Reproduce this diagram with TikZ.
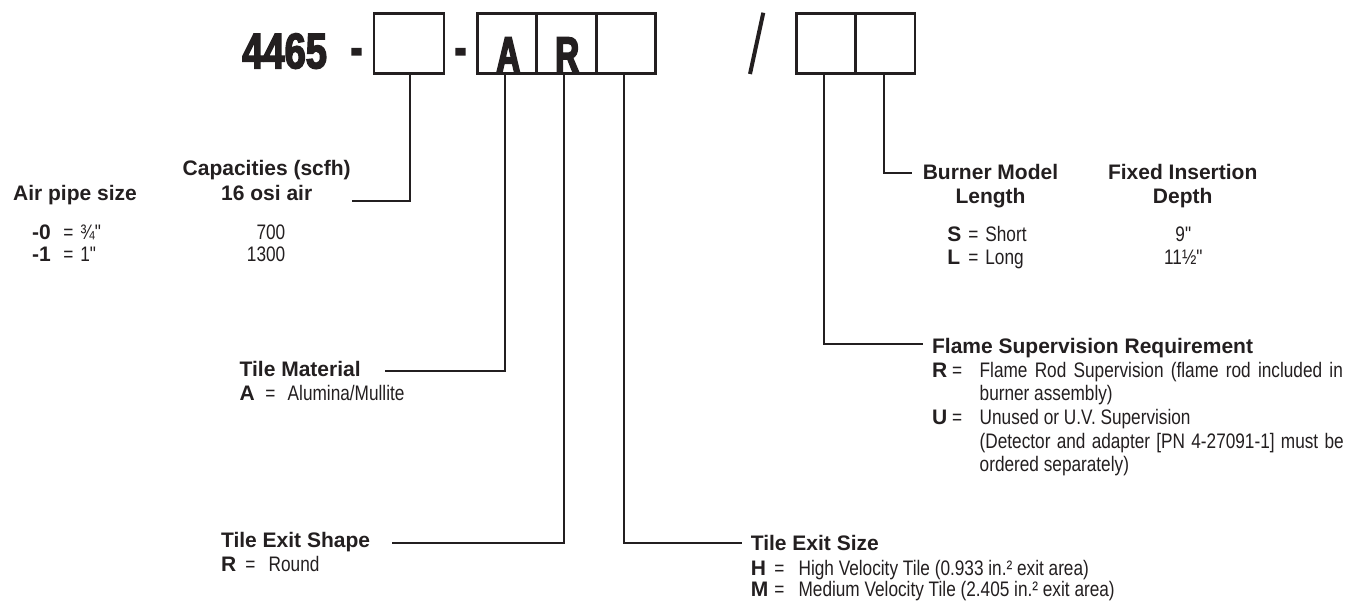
\documentclass[tikz,border=0pt]{standalone}
\usepackage{fontspec}
\setmainfont{Liberation Sans}[Ligatures=TeXOff]
\newfontfamily\nar[FakeStretch=0.82,Ligatures=TeXOff]{Liberation Sans}
\newfontfamily\bigdig[FakeStretch=0.76,FakeBold=3]{Liberation Sans}
\newfontfamily\biglet[FakeStretch=0.66,FakeBold=3.5]{Liberation Sans}
\definecolor{ink}{HTML}{231F20}
\begin{document}
\begin{tikzpicture}[x=0.5pt,y=-0.5pt,
  hd/.style={font=\fontsize{10.5pt}{12pt}\selectfont\bfseries, text=ink, inner sep=0pt, anchor=base west},
  hdc/.style={hd, anchor=base},
  tx/.style={font=\nar\fontsize{10.5pt}{12pt}\selectfont, text=ink, inner sep=0pt, anchor=base west},
  ky/.style={font=\fontsize{10.5pt}{12pt}\selectfont\bfseries, text=ink, inner sep=0pt, anchor=base west},
  bignum/.style={font=\bigdig\bfseries\fontsize{25pt}{26pt}\selectfont, text=ink, inner sep=0pt},
  biglt/.style={font=\biglet\bfseries\fontsize{25pt}{26pt}\selectfont, text=ink, inner sep=0pt, anchor=base},
  cellbox/.style={draw=ink, line width=1.35pt, minimum height=30pt, inner sep=0pt},
  conn/.style={draw=ink, line width=1.1pt},
]
\path[fill=white] (0,0) rectangle (1351,602);
\useasboundingbox (0,0) rectangle (1351,602);

% ---- top code row ----
\node[bignum, anchor=base west] (num) at (242,68.3) {4465};
\node[biglt] (dash1) at (356.5,64.7) {-};
\node[cellbox, minimum width=35pt] (b1) at (409,43.3) {};
\node[biglt] (dash2) at (460.5,64.7) {-};
\node[cellbox, minimum width=29.75pt] (cA) at (507.05,43.3) {};
\node[cellbox, minimum width=29.75pt] (cR) at (566.55,43.3) {};
\node[cellbox, minimum width=29.75pt] (c3) at (626.05,43.3) {};
\node[biglt] (lA) at (508.3,72) {A};
\node[biglt] (lR) at (567.2,72) {R};
\draw[ink, line width=2pt] (763.3,12.7) -- (750,74);
\node[cellbox, minimum width=29.6pt] (d1) at (826.25,43.3) {};
\node[cellbox, minimum width=29.6pt] (d2) at (885.4,43.3) {};

% ---- connector ends ----
\coordinate (e1) at (352,201);
\coordinate (eA) at (385,371);
\coordinate (eR) at (392,543);
\coordinate (e3) at (741.6,543);
\coordinate (ed1) at (923,344);
\coordinate (ed2) at (912,173);

\draw[conn] ([xshift=0.5pt]b1.south) |- (e1);
\draw[conn] ([xshift=-1pt]cA.south) |- (eA);
\draw[conn] ([xshift=-1.1pt]cR.south) |- (eR);
\draw[conn] ([xshift=-0.9pt]c3.south) |- (e3);
\draw[conn] ([xshift=-1.1pt]d1.south) |- (ed1);
\draw[conn] ([xshift=-0.7pt]d2.south) |- (ed2);

% ---- air pipe / capacities ----
\node[hd] (airhd) at (12.7,200.3) {Air pipe size};
\node[hdc] (caphd1) at (266.7,175.7) {Capacities (scfh)};
\node[hdc] (caphd2) at (266.7,200.3) {16 osi air};
\node[ky] (k0) at (31.7,239) {-0};
\node[tx] (q0) at (63,239) {=};
\node[tx] (v0) at (80,239) {¾"};
\node[tx, anchor=base east] (n0) at (285.7,239) {700};
\node[ky] (k1) at (31.7,261.7) {-1};
\node[tx] (q1) at (63,261.7) {=};
\node[tx] (v1) at (80,261.7) {1"};
\node[tx, anchor=base east] (n1) at (285.7,261.7) {1300};

% ---- burner model length / insertion depth ----
\node[hdc] (bm1) at (990.5,179.3) {Burner Model};
\node[hdc] (bm2) at (990.5,203) {Length};
\node[hdc] (fi1) at (1182.7,179.3) {Fixed Insertion};
\node[hdc] (fi2) at (1182.7,203) {Depth};
\node[ky] (kS) at (947,241.7) {S};
\node[tx] (qS) at (968,241.7) {=};
\node[tx] (vS) at (985,241.7) {Short};
\node[tx, anchor=base] (dS) at (1183.3,241.7) {9"};
\node[ky] (kL) at (947,264) {L};
\node[tx] (qL) at (968,264) {=};
\node[tx] (vL) at (985,264) {Long};
\node[tx, anchor=base] (dL) at (1183.3,264) {11½"};

% ---- tile material ----
\node[hd] (tm) at (239.3,376.7) {Tile Material};
\node[ky] (kA) at (239.3,400) {A};
\node[tx] (qA) at (265,400) {=};
\node[tx] (vA) at (287.3,400) {Alumina/Mullite};

% ---- tile exit shape ----
\node[hd] (tes) at (220.7,547.7) {Tile Exit Shape};
\node[ky] (kRo) at (220.7,571.7) {R};
\node[tx] (qRo) at (245,571.7) {=};
\node[tx] (vRo) at (268.3,571.7) {Round};

% ---- tile exit size ----
\node[hd] (tsz) at (750.4,550) {Tile Exit Size};
\node[ky] (kH) at (750.4,575) {H};
\node[tx] (qH) at (774,575) {=};
\node[tx] (vH) at (798.2,575) {High Velocity Tile (0.933 in.² exit area)};
\node[ky] (kM) at (750.4,596.7) {M};
\node[tx] (qM) at (774,596.7) {=};
\node[tx] (vM) at (798.2,596.7) {Medium Velocity Tile (2.405 in.² exit area)};

% ---- flame supervision ----
\node[hd] (fs) at (931.7,353.3) {Flame Supervision Requirement};
\node[ky] (kFR) at (931.7,377.5) {R};
\node[tx] (qFR) at (951.7,377.5) {=};
\node[tx] (vFR1) at (979.3,377.5) {\makebox[181.6pt][s]{Flame Rod Supervision (flame rod included in}};
\node[tx] (vFR2) at (979.3,400.5) {burner assembly)};
\node[ky] (kFU) at (931.7,424) {U};
\node[tx] (qFU) at (951.7,424) {=};
\node[tx] (vFU1) at (979.3,424) {Unused or U.V. Supervision};
\node[tx] (vFU2) at (979.3,448) {\makebox[182pt][s]{(Detector and adapter [PN 4-27091-1] must be}};
\node[tx] (vFU3) at (979.3,471.5) {ordered separately)};
\end{tikzpicture}
\end{document}
